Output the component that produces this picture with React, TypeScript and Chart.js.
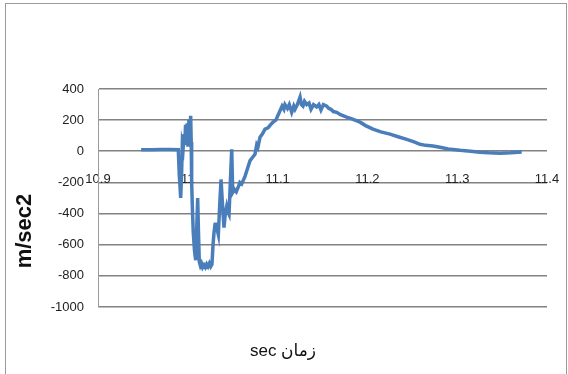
import React, { useEffect, useRef } from "react";
import { Chart, registerables } from "chart.js";

Chart.register(...registerables);

// Sample times (s) and measured acceleration (m/sec2)
const times: number[] = [
  10.948, 10.96, 10.97, 10.98, 10.9894, 10.9905, 10.9921, 10.9932, 10.9939, 10.9948,
  10.9958, 10.9966, 10.9975, 10.9984, 10.9993, 11.0002, 11.0012, 11.0022, 11.0032, 11.0038,
  11.0043, 11.0052, 11.0061, 11.0075, 11.0088, 11.0098, 11.011, 11.0119, 11.0128, 11.014,
  11.0152, 11.0165, 11.018, 11.0195, 11.021, 11.0225, 11.024, 11.0255, 11.0269, 11.0281,
  11.0292, 11.0303, 11.0314, 11.0326, 11.034, 11.0355, 11.037, 11.0385, 11.0403, 11.0418,
  11.0433, 11.0446, 11.0459, 11.0475, 11.0489, 11.05, 11.052, 11.054, 11.0559, 11.058,
  11.06, 11.0637, 11.0665, 11.0693, 11.072, 11.0748, 11.0767, 11.078, 11.0804, 11.083,
  11.086, 11.0893, 11.092, 11.0949, 11.098, 11.1027, 11.105, 11.107, 11.1082, 11.111,
  11.113, 11.1157, 11.118, 11.1194, 11.122, 11.125, 11.1265, 11.1283, 11.13, 11.1324,
  11.135, 11.1372, 11.14, 11.1435, 11.146, 11.1483, 11.151, 11.1547, 11.157, 11.1595,
  11.162, 11.1658, 11.17, 11.1769, 11.182, 11.1918, 11.198, 11.2062, 11.215, 11.2252,
  11.235, 11.2438, 11.252, 11.2586, 11.265, 11.2731, 11.2808, 11.29, 11.3031, 11.315,
  11.3254, 11.335, 11.3477, 11.36, 11.3718,
];

const accel: number[] = [
  10, 10, 12, 12, 10, -150, -300, -120, 45, 20,
  110, 40, 170, 60, 180, 30, 200, 120, 228, 60,
  -200, -380, -523, -640, -700, -520, -300, -520, -710, -735,
  -720, -745, -730, -745, -725, -740, -720, -740, -725, -600,
  -523, -470, -458, -500, -535, -350, -181, -330, -490, -400,
  -355, -390, -406, -180, 13, -265, -245, -260, -234, -200,
  -210, -161, -110, -60, -40, -19, 40, 25, 90, 110,
  142, 150, 170, 187, 200, 260, 290, 270, 300, 275,
  300, 250, 290, 270, 300, 348, 300, 290, 320, 300,
  310, 270, 300, 285, 300, 265, 300, 290, 275, 270,
  255, 250, 235, 219, 210, 187, 165, 142, 125, 110,
  92, 77, 60, 45, 38, 34, 26, 15, 6, 0,
  -6, -10, -13, -10, -4,
];

const xMin = 10.9;
const xMax = 11.4;
const xStep = 0.1;
const yMin = -1000;
const yMax = 400;
const yStep = 200;

const yTitle = "m/sec2";
const xTitle = "زمان sec";

const tickFont = { family: '"Liberation Sans", Arial, sans-serif', size: 13 };

const decorations = {
  id: "decorations",
  beforeDraw(chart: Chart) {
    const ctx = chart.ctx;
    ctx.save();
    ctx.strokeStyle = "#9a9a9a";
    ctx.lineWidth = 1;
    ctx.strokeRect(5.5, 3.5, 561, 390);
    ctx.restore();
  },
  afterDraw(chart: Chart) {
    const ctx = chart.ctx;
    const area = chart.chartArea;
    ctx.save();
    // vertical axis title
    ctx.fillStyle = "#111";
    ctx.font = 'bold 22px "Liberation Sans", Arial, sans-serif';
    ctx.textAlign = "center";
    ctx.textBaseline = "middle";
    ctx.translate(25, (area.top + area.bottom) / 2 + 33);
    ctx.rotate(-Math.PI / 2);
    ctx.fillText(yTitle, 0, 0);
    ctx.restore();

    // horizontal axis title (right-to-left)
    ctx.save();
    ctx.fillStyle = "#111";
    ctx.font = '17px "Liberation Sans", "DejaVu Sans", sans-serif';
    (ctx as any).direction = "rtl";
    ctx.textAlign = "center";
    ctx.textBaseline = "middle";
    ctx.fillText(xTitle, 283, 351);
    ctx.restore();
  },
};

export default function App() {
  const canvasRef = useRef<HTMLCanvasElement | null>(null);

  useEffect(() => {
    const canvas = canvasRef.current;
    if (!canvas) return;
    const points = times.map((t, i) => ({ x: t, y: accel[i] }));
    const chart = new Chart(canvas, {
      type: "line",
      data: {
        datasets: [
          {
            data: points,
            borderColor: "#4a7ebb",
            borderWidth: 3.5,
            pointRadius: 0,
            tension: 0,
            fill: false,
          },
        ],
      },
      options: {
        animation: false,
        responsive: false,
        devicePixelRatio: 1,
        layout: { padding: { left: 0, right: 21, top: 89, bottom: 67 } },
        plugins: {
          legend: { display: false },
          tooltip: { enabled: false },
        },
        scales: {
          x: {
            type: "linear",
            position: { y: 0 } as any,
            min: xMin,
            max: xMax,
            afterFit: (s: any) => {
              s.paddingLeft = 0;
              s.paddingRight = 0;
            },
            grid: { display: false, drawTicks: false },
            border: { display: false },
            ticks: {
              stepSize: xStep,
              padding: 20,
              color: "#222",
              font: tickFont,
              maxRotation: 0,
              callback: (v: any) => parseFloat(Number(v).toFixed(1)).toString(),
            },
          },
          y: {
            type: "linear",
            min: yMin,
            max: yMax,
            afterFit: (s: any) => {
              s.width = 98;
            },
            grid: { color: "#828282", lineWidth: 1.6, drawTicks: false },
            border: { display: true, color: "#9a9a9a", width: 1 },
            ticks: {
              stepSize: yStep,
              padding: 14,
              color: "#222",
              font: tickFont,
              callback: (v: any) => String(Math.round(Number(v))),
            },
          },
        },
      },
      plugins: [decorations],
    });
    return () => chart.destroy();
  }, []);

  return (
    <div style={{ position: "absolute", left: 0, top: 0, width: 568, height: 374, background: "#fff" }}>
      <canvas ref={canvasRef} width={568} height={374} style={{ display: "block", width: 568, height: 374 }} />
    </div>
  );
}
